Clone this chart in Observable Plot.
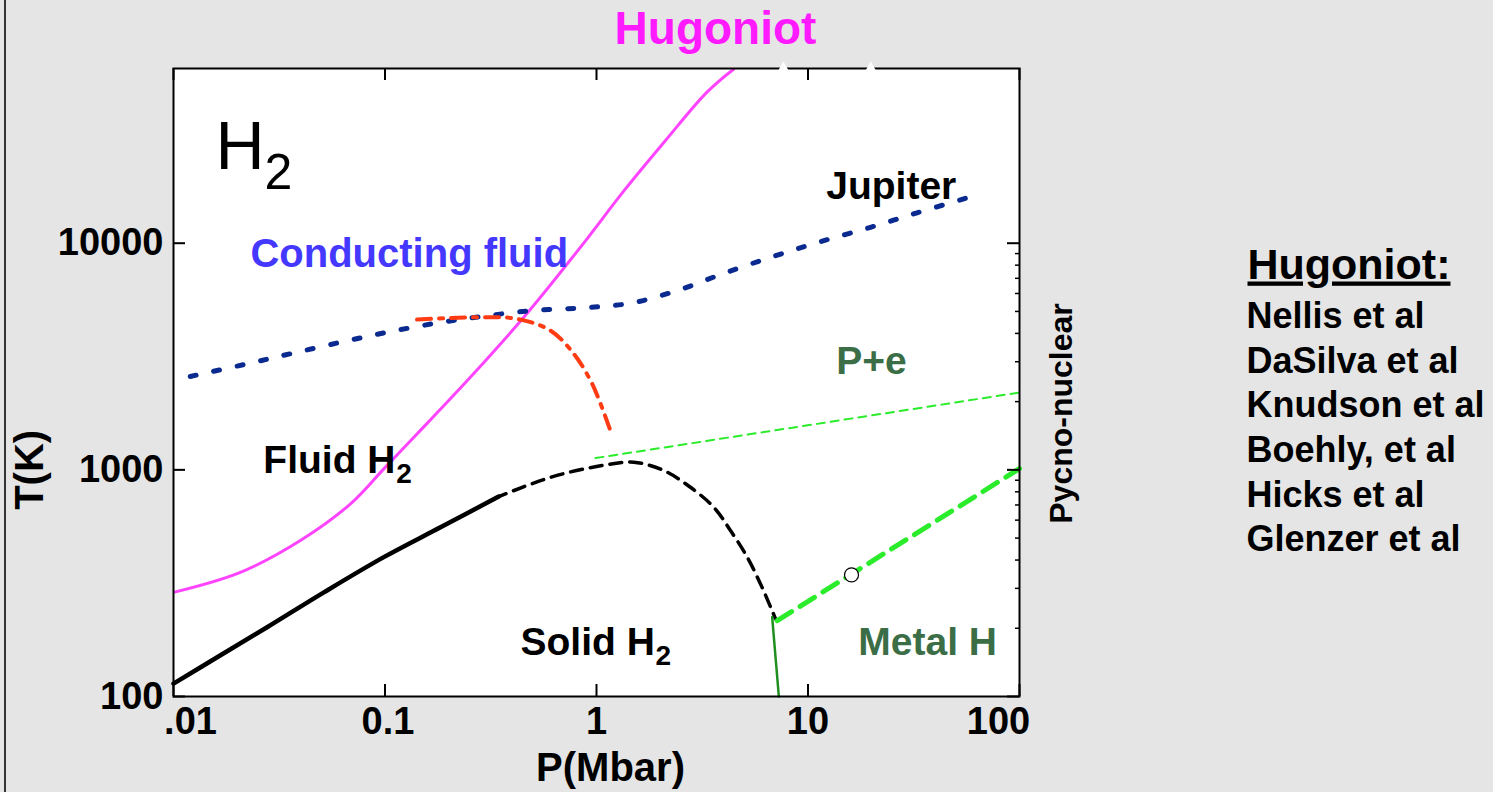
<!DOCTYPE html>
<html><head><meta charset="utf-8">
<script src="https://cdn.jsdelivr.net/npm/d3@7"></script>
<script src="https://cdn.jsdelivr.net/npm/@observablehq/plot@0.6"></script>
<style>
html,body{margin:0;padding:0;background:#e5e5e5;}
#wrap{position:relative;width:1493px;height:792px;overflow:hidden;background:#e5e5e5;}
#border{position:absolute;left:4px;top:0;width:2px;height:792px;background:#333;}
#wrap svg{position:absolute;left:0;top:0;}
</style></head><body><div id="wrap"><div id="border"></div></div>
<script>
// ---- data (P in Mbar, T in K) ----
const hugoniotP = [0.01, 0.0207, 0.0398, 0.0687, 0.0987, 0.142, 0.245, 0.453, 0.839, 1.35, 2.12, 3.33, 4.46];
const hugoniotT = [288, 353, 488, 708, 1010, 1442, 2477, 4710, 9590, 17060, 28400, 46400, 58700];

const jupiterP = [0.0120, 0.0215, 0.0357, 0.0617, 0.1024, 0.1766, 0.293, 0.506, 0.871, 1.449, 2.41, 4.00, 6.88, 11.46, 19.75, 32.8, 56.6];
const jupiterT = [2583, 2914, 3252, 3656, 4046, 4447, 4766, 5048, 5188, 5436, 6181, 7364, 8750, 10160, 11750, 13620, 15850];

const dissocP = [0.1418, 0.204, 0.293, 0.4217, 0.606, 0.781, 0.937, 1.044, 1.186];
const dissocT = [4603, 4677, 4711, 4636, 4116, 3252, 2477, 1961, 1416];

const meltP = [0.01, 0.01609, 0.0277, 0.0514, 0.0987, 0.183, 0.345];
const meltT = [114, 149, 202, 288, 412, 558, 762];

const meltExtP = [0.345, 0.606, 1.0, 1.501, 2.08, 2.78, 3.585, 4.30, 5.16, 5.96, 6.77, 7.02];
const meltExtT = [762, 927, 1034, 1080, 993, 838, 684, 540, 412, 314, 239, 220];

const solidMetalP = [6.77, 7.28];
const solidMetalT = [224, 100];

const metalMeltP = [7.15, 100];
const metalMeltT = [216, 1013];

const plasmaP = [0.989, 100];
const plasmaT = [1127, 2193];

const pointP = [16.06];
const pointT = [344];

const offscaleP = [7.65, 19.8];
const offscaleT = [59000, 59000];

const xTicks = [0.01, 0.1, 1, 10, 100];
const xTickLabels = [".01", "0.1", "1", "10", "100"];
const yTicks = [100, 1000, 10000];
const yTickLabels = ["100", "1000", "10000"];
const yMinorTicks = [200, 300, 400, 500, 600, 700, 800, 900, 2000, 3000, 4000, 5000, 6000, 7000, 8000, 9000];

const legendTitle = "Hugoniot:";
const legendNames = ["Nellis et al", "DaSilva et al", "Knudson et al", "Boehly, et al", "Hicks et al", "Glenzer et al"];

// ---- helpers ----
const zip = (P, T) => P.map((p, i) => ({P: p, T: T[i]}));
const FONT = "Liberation Sans, Arial, Helvetica, sans-serif";
const FW = 846, FH = 628;
const bold = {fontFamily: FONT, fontWeight: "bold"};
const lbl = (s, x, y, opts) => Plot.text([s], {x: [x], y: [y], text: d => d, textAnchor: "start", lineAnchor: "bottom", fontSize: 39, ...bold, ...opts});

const xLabelShift = [17, 3, 0, 0, -21];

const chart = Plot.plot({
  width: 1493, height: 792,
  marginLeft: 173, marginRight: 474, marginTop: 68, marginBottom: 96,
  style: {background: "transparent", overflow: "visible", maxWidth: "none", fontFamily: FONT},
  x: {type: "log", domain: [0.01, 100], axis: null},
  y: {type: "log", domain: [100, 59000], axis: null},
  marks: [
    Plot.frame({fill: "white", stroke: null}),
    // curves
    Plot.line(zip(plasmaP, plasmaT), {x: "P", y: "T", stroke: "#2bec2b", strokeWidth: 2, strokeDasharray: "8,6"}),
    Plot.line(zip(hugoniotP, hugoniotT), {x: "P", y: "T", stroke: "#ff44ff", strokeWidth: 3, curve: "catmull-rom", clip: true}),
    Plot.line(zip(jupiterP, jupiterT), {x: "P", y: "T", stroke: "#0a2a8f", strokeWidth: 5, strokeDasharray: "6,18", curve: "catmull-rom"}),
    Plot.line(zip(dissocP, dissocT), {x: "P", y: "T", stroke: "#ff3b14", strokeWidth: 4, strokeDasharray: "14,8,4,8", curve: "catmull-rom"}),
    Plot.line(zip(meltP, meltT), {x: "P", y: "T", stroke: "black", strokeWidth: 4.5, curve: "catmull-rom"}),
    Plot.line(zip(meltExtP, meltExtT), {x: "P", y: "T", stroke: "black", strokeWidth: 3.5, strokeDasharray: "12,8", strokeDashoffset: 4, curve: "catmull-rom"}),
    Plot.line(zip(solidMetalP, solidMetalT), {x: "P", y: "T", stroke: "#1f8f1f", strokeWidth: 2.5}),
    Plot.line(zip(metalMeltP, metalMeltT), {x: "P", y: "T", stroke: "#2bec2b", strokeWidth: 5, strokeDasharray: "17,10"}),
    Plot.dot(zip(pointP, pointT), {x: "P", y: "T", r: 7, fill: "white", stroke: "black", strokeWidth: 1.2}),
    // frame and ticks
    Plot.frame({stroke: "black", strokeWidth: 2}),
    Plot.tickX(xTicks, {x: d => d, insetTop: FH - 12, stroke: "black", strokeWidth: 2}),
    Plot.tickX(xTicks, {x: d => d, insetBottom: FH - 12, stroke: "black", strokeWidth: 2}),
    Plot.tickY(yTicks, {y: d => d, insetRight: FW - 12, stroke: "black", strokeWidth: 2}),
    Plot.tickY(yTicks, {y: d => d, insetLeft: FW - 12, stroke: "black", strokeWidth: 2}),
    Plot.tickY(yMinorTicks, {y: d => d, insetLeft: FW - 4, stroke: "black", strokeWidth: 1.5}),
    Plot.dot(zip(offscaleP, offscaleT), {x: "P", y: "T", symbol: "triangle", r: 4.5, fill: "white", stroke: null}),
    // tick labels
    ...xTicks.map((t, i) => Plot.text([t], {x: d => d, text: () => xTickLabels[i], frameAnchor: "bottom", dy: 37, dx: xLabelShift[i], lineAnchor: "bottom", textAnchor: "middle", fontSize: 38, ...bold, fill: "black"})),
    Plot.text(yTicks, {y: d => d, text: (d, i) => yTickLabels[i], frameAnchor: "left", dx: -10, textAnchor: "end", lineAnchor: "middle", fontSize: 38, ...bold, fill: "black"}),
    // axis titles
    Plot.text(["T(K)"], {y: [1000], text: d => d, frameAnchor: "left", dx: -143, rotate: -90, textAnchor: "middle", lineAnchor: "middle", fontSize: 40, ...bold}),
    Plot.text(["P(Mbar)"], {text: d => d, frameAnchor: "bottom", dx: 14, dy: 84, textAnchor: "middle", lineAnchor: "bottom", fontSize: 40, ...bold}),
    Plot.text(["Pycno-nuclear"], {text: d => d, frameAnchor: "right", dx: 42, dy: 31, rotate: -90, textAnchor: "middle", lineAnchor: "middle", fontSize: 32, ...bold}),
    Plot.text(["Hugoniot"], {text: d => d, frameAnchor: "top", dx: 119, dy: -25, textAnchor: "middle", lineAnchor: "bottom", fontSize: 46, ...bold, fill: "#ff1aff"}),
    // region labels
    Plot.text(["H"], {x: [0.0158], y: [21330], text: d => d, textAnchor: "start", lineAnchor: "bottom", fontSize: 68, fontFamily: FONT, fill: "black"}),
    Plot.text(["2"], {x: [0.0158], y: [21330], dx: 49, dy: 20, text: d => d, textAnchor: "start", lineAnchor: "bottom", fontSize: 50, fontFamily: FONT, fill: "black"}),
    lbl("Conducting fluid", 0.0231, 7890, {fill: "#4438ff", fontSize: 40}),
    lbl("Jupiter", 12.2, 15740, {fill: "black"}),
    lbl("P+e", 13.6, 2660, {fill: "#3b6e46"}),
    lbl("Fluid H", 0.0266, 964, {fill: "black"}),
    lbl("2", 0.0266, 964, {fill: "black", dx: 133, dy: 10, fontSize: 28}),
    lbl("Solid H", 0.437, 152, {fill: "black"}),
    lbl("2", 0.437, 152, {fill: "black", dx: 135, dy: 10, fontSize: 28}),
    lbl("Metal H", 17.3, 152, {fill: "#3b6e46"}),
    // legend
    Plot.text([legendTitle], {text: d => d, frameAnchor: "top-right", dx: 228, dy: 210, textAnchor: "start", lineAnchor: "bottom", fontSize: 43, ...bold, fill: "black"}),
    Plot.text([legendNames.join("\n")], {text: d => d, frameAnchor: "top-right", dx: 227, dy: 228, textAnchor: "start", lineAnchor: "top", lineHeight: 1.24, fontSize: 36, ...bold, fill: "black"})
  ]
});
d3.select(chart).selectAll("text").filter(function () { return this.textContent === legendTitle; }).attr("text-decoration", "underline");
document.getElementById("wrap").appendChild(chart);
</script>
</body></html>
